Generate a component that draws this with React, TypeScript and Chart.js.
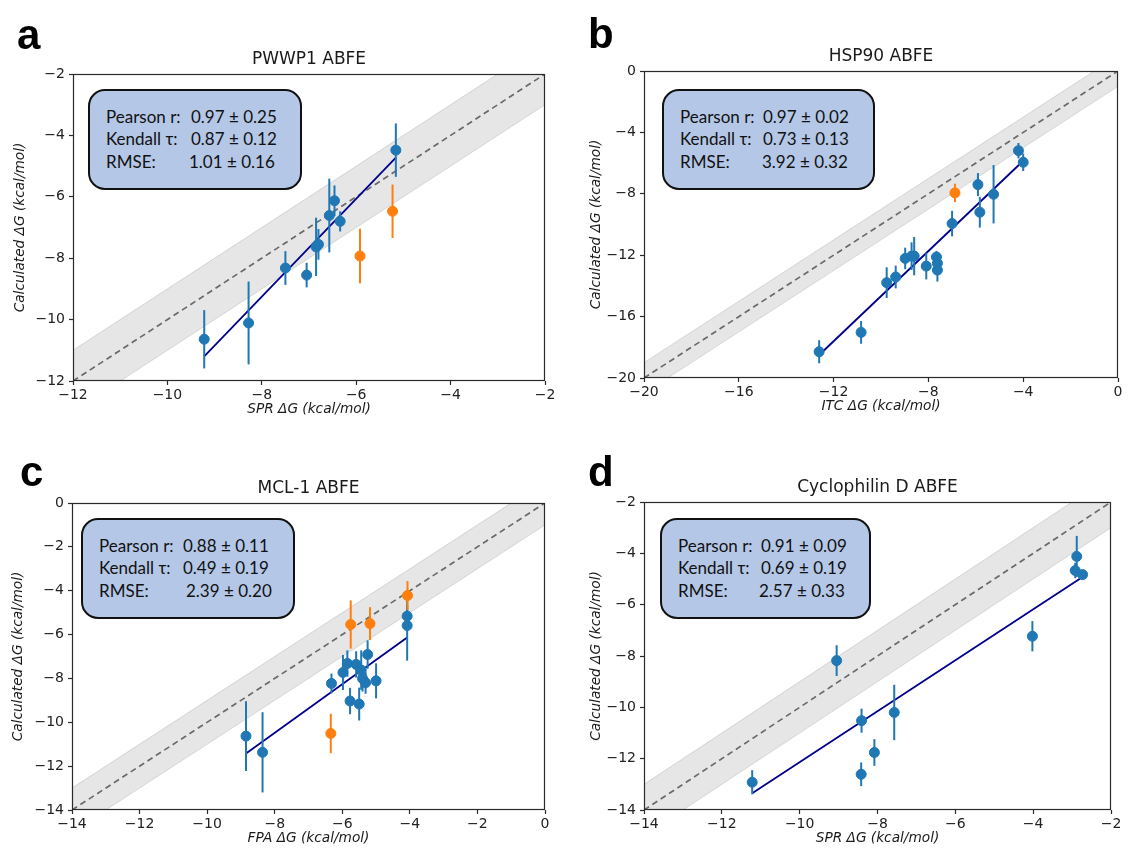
import React, { useEffect, useRef } from "react";
import { Chart, registerables } from "chart.js";

Chart.register(...registerables);

// ---------------- Panel a: PWWP1 ABFE ----------------
const aBlueX = [-9.22, -8.28, -7.5, -7.05, -6.85, -6.8, -6.57, -6.46, -6.34, -5.16];
const aBlueY = [-10.64, -10.11, -8.32, -8.55, -7.63, -7.55, -6.61, -6.13, -6.8, -4.48];
const aBlueErr = [0.95, 1.35, 0.55, 0.4, 0.95, 0.5, 1.2, 0.5, 0.33, 0.87];
const aOrangeX = [-5.92, -5.23];
const aOrangeY = [-7.93, -6.47];
const aOrangeErr = [0.89, 0.87];
const aFitX = [-9.22, -5.16];
const aFitY = [-11.2, -4.72];
const aStats = ["0.97 ± 0.25", "0.87 ± 0.12", "1.01 ± 0.16"];

// ---------------- Panel b: HSP90 ABFE ----------------
const bBlueX = [-12.61, -10.84, -9.76, -9.38, -8.98, -8.71, -8.6, -8.09, -7.66, -7.62, -7.62, -7.0, -5.91, -5.83, -5.25, -4.2, -4.0];
const bBlueY = [-18.29, -17.03, -13.79, -13.42, -12.21, -12.06, -12.06, -12.71, -12.12, -12.53, -12.97, -9.94, -7.4, -9.2, -8.03, -5.19, -5.95];
const bBlueErr = [0.75, 0.74, 1.0, 0.74, 0.7, 0.9, 1.25, 0.87, 0.4, 0.5, 0.75, 0.83, 0.75, 1.0, 1.9, 0.5, 0.57];
const bOrangeX = [-6.88];
const bOrangeY = [-7.94];
const bOrangeErr = [0.6];
const bFitX = [-12.61, -4.14];
const bFitY = [-18.5, -6.06];
const bStats = ["0.97 ± 0.02", "0.73 ± 0.13", "3.92 ± 0.32"];

// ---------------- Panel c: MCL-1 ABFE ----------------
const cBlueX = [-8.85, -8.36, -6.32, -5.98, -5.85, -5.77, -5.59, -5.5, -5.44, -5.4, -5.31, -5.25, -5.0, -4.08, -4.08];
const cBlueY = [-10.63, -11.37, -8.23, -7.73, -7.32, -9.03, -7.36, -9.17, -7.62, -8.0, -8.2, -6.91, -8.11, -5.16, -5.59];
const cBlueErr = [1.59, 1.83, 0.45, 0.8, 0.6, 0.6, 0.6, 0.75, 0.9, 0.6, 0.5, 0.65, 0.8, 0.5, 1.6];
const cOrangeX = [-6.34, -5.75, -5.18, -4.07];
const cOrangeY = [-10.51, -5.54, -5.5, -4.22];
const cOrangeErr = [0.9, 1.1, 0.75, 0.66];
const cFitX = [-8.85, -4.08];
const cFitY = [-11.42, -6.13];
const cStats = ["0.88 ± 0.11", "0.49 ± 0.19", "2.39 ± 0.20"];

// ---------------- Panel d: Cyclophilin D ABFE ----------------
const dBlueX = [-11.22, -9.05, -8.41, -8.42, -8.08, -7.57, -4.02, -2.88, -2.92, -2.73];
const dBlueY = [-12.92, -8.18, -10.52, -12.61, -11.76, -10.2, -7.23, -4.12, -4.67, -4.83];
const dBlueErr = [0.47, 0.6, 0.47, 0.46, 0.52, 1.08, 0.59, 0.8, 0.3, 0.2];
const dOrangeX: number[] = [];
const dOrangeY: number[] = [];
const dOrangeErr: number[] = [];
const dFitX = [-11.22, -2.8];
const dFitY = [-13.35, -4.99];
const dStats = ["0.91 ± 0.09", "0.69 ± 0.19", "2.57 ± 0.33"];

const statLabels = ["Pearson r:", "Kendall τ:", "RMSE:"];
const BAND = 1; // ±1 kcal/mol band around identity

const BLUE = "#1f77b4";
const ORANGE = "#ff7f0e";
const NAVY = "#00008b";
const TICK_FONT = "'DejaVu Sans', sans-serif";

type Panel = {
  letter: string;
  title: string;
  xLabel: string;
  min: number;
  max: number;
  step: number;
  area: [number, number, number, number];
  yOff: number;
  blueX: number[];
  blueY: number[];
  blueErr: number[];
  orangeX: number[];
  orangeY: number[];
  orangeErr: number[];
  fitX: number[];
  fitY: number[];
  stats: string[];
  box: [number, number, number, number];
  valLeft: number[];
  letterPos: [number, number];
};

const panels: Panel[] = [
  {
    letter: "a", title: "PWWP1 ABFE", xLabel: "SPR ΔG (kcal/mol)", min: -12, max: -2, step: 2,
    area: [73, 74, 545, 381], yOff: 53,
    blueX: aBlueX, blueY: aBlueY, blueErr: aBlueErr, orangeX: aOrangeX, orangeY: aOrangeY, orangeErr: aOrangeErr,
    fitX: aFitX, fitY: aFitY, stats: aStats, box: [88, 89, 214, 101], valLeft: [103, 103, 101], letterPos: [17, 14],
  },
  {
    letter: "b", title: "HSP90 ABFE", xLabel: "ITC ΔG (kcal/mol)", min: -20, max: 0, step: 4,
    area: [644, 71, 1118, 378], yOff: 48,
    blueX: bBlueX, blueY: bBlueY, blueErr: bBlueErr, orangeX: bOrangeX, orangeY: bOrangeY, orangeErr: bOrangeErr,
    fitX: bFitX, fitY: bFitY, stats: bStats, box: [662, 89, 213, 101], valLeft: [101, 101, 100], letterPos: [588, 13],
  },
  {
    letter: "c", title: "MCL-1 ABFE", xLabel: "FPA ΔG (kcal/mol)", min: -14, max: 0, step: 2,
    area: [72, 503, 545, 810], yOff: 54,
    blueX: cBlueX, blueY: cBlueY, blueErr: cBlueErr, orangeX: cOrangeX, orangeY: cOrangeY, orangeErr: cOrangeErr,
    fitX: cFitX, fitY: cFitY, stats: cStats, box: [81, 518, 214, 101], valLeft: [102, 102, 105], letterPos: [20, 451],
  },
  {
    letter: "d", title: "Cyclophilin D ABFE", xLabel: "SPR ΔG (kcal/mol)", min: -14, max: -2, step: 2,
    area: [644, 502, 1111, 810], yOff: 48,
    blueX: dBlueX, blueY: dBlueY, blueErr: dBlueErr, orangeX: dOrangeX, orangeY: dOrangeY, orangeErr: dOrangeErr,
    fitX: dFitX, fitY: dFitY, stats: dStats, box: [660, 518, 211, 101], valLeft: [101, 101, 99], letterPos: [588, 451],
  },
];

const fmt = (v: number) => (v < 0 ? "\u2212" + Math.abs(v) : String(v));

const errorBarPlugin = {
  id: "errorBars",
  beforeDatasetDraw(chart: any, args: any) {
    const ds = chart.data.datasets[args.index];
    if (!ds.errors) return;
    const meta = chart.getDatasetMeta(args.index);
    const y = chart.scales.y;
    const ctx = chart.ctx;
    ctx.save();
    ctx.strokeStyle = ds.backgroundColor;
    ctx.lineWidth = 2;
    meta.data.forEach((pt: any, i: number) => {
      const v = ds.data[i].y;
      const e = ds.errors[i];
      ctx.beginPath();
      ctx.moveTo(pt.x, y.getPixelForValue(v - e));
      ctx.lineTo(pt.x, y.getPixelForValue(v + e));
      ctx.stroke();
    });
    ctx.restore();
  },
};

const textPlugin = {
  id: "panelText",
  afterDraw(chart: any, _args: any, opts: any) {
    const { ctx, chartArea: a } = chart;
    ctx.save();
    ctx.strokeStyle = "#2a2a2a";
    ctx.lineWidth = 1.2;
    ctx.strokeRect(Math.round(a.left) + 0.5, Math.round(a.top) + 0.5, Math.round(a.right - a.left) - 1, Math.round(a.bottom - a.top) - 1);
    ctx.fillStyle = "#1a1a1a";
    ctx.textAlign = "center";
    ctx.textBaseline = "middle";
    ctx.font = "17px 'DejaVu Sans', sans-serif";
    ctx.fillText(opts.title, (a.left + a.right) / 2, a.top - 14);
    ctx.font = "italic 13.7px 'DejaVu Sans', sans-serif";
    ctx.fillText(opts.xLabel, (a.left + a.right) / 2, a.bottom + 28);
    ctx.translate(a.left - opts.yOff, (a.top + a.bottom) / 2);
    ctx.rotate(-Math.PI / 2);
    ctx.fillText("Calculated ΔG (kcal/mol)", 0, 0);
    ctx.restore();
  },
};

const YW = 70, PT = 40, PR = 20, XH = 40, PB = 12;

function PanelChart({ p }: { p: Panel }) {
  const ref = useRef<HTMLCanvasElement>(null);
  const [L, T, R, B] = p.area;
  const cw = YW + (R - L) + PR;
  const ch = PT + (B - T) + XH + PB;

  useEffect(() => {
    const diag = [p.min, p.max];
    const pts = (xs: number[], ys: number[]) => xs.map((x, i) => ({ x, y: ys[i] }));
    const axis = (isX: boolean) => ({
      type: "linear" as const,
      min: p.min,
      max: p.max,
      ticks: {
        stepSize: p.step,
        callback: (v: any) => fmt(Number(v)),
        font: { family: TICK_FONT, size: 14 },
        color: "#222",
        padding: isX ? 2 : 4,
        maxRotation: 0,
        autoSkip: false,
      },
      grid: { drawOnChartArea: false, drawTicks: true, tickLength: 4, tickColor: "#2a2a2a", tickWidth: 1.2 },
      border: { display: false },
      afterFit: (s: any) => {
        if (isX) s.height = XH;
        else s.width = YW;
      },
    });
    const chart = new Chart(ref.current!, {
      type: "scatter",
      data: {
        datasets: [
          {
            type: "line",
            data: pts(diag, diag.map((v) => v + BAND)),
            borderColor: "rgba(190,190,190,0.5)",
            borderWidth: 1,
            pointRadius: 0,
            fill: false,
            order: 10,
          } as any,
          {
            type: "line",
            data: pts(diag, diag.map((v) => v - BAND)),
            borderColor: "rgba(190,190,190,0.5)",
            borderWidth: 1,
            backgroundColor: "rgba(128,128,128,0.2)",
            pointRadius: 0,
            fill: "-1",
            order: 9,
          },
          {
            type: "line",
            data: pts(diag, diag),
            borderColor: "#6a6a6a",
            borderWidth: 1.7,
            borderDash: [6, 4],
            pointRadius: 0,
            fill: false,
            order: 8,
          },
          {
            type: "line",
            data: pts(p.fitX, p.fitY),
            borderColor: NAVY,
            borderWidth: 1.8,
            pointRadius: 0,
            fill: false,
            order: 3,
          },
          {
            data: pts(p.blueX, p.blueY),
            errors: p.blueErr,
            backgroundColor: BLUE,
            borderColor: BLUE,
            pointRadius: 5,
            pointHoverRadius: 5,
            order: 2,
          } as any,
          {
            data: pts(p.orangeX, p.orangeY),
            errors: p.orangeErr,
            backgroundColor: ORANGE,
            borderColor: ORANGE,
            pointRadius: 5,
            pointHoverRadius: 5,
            order: 1,
          } as any,
        ],
      },
      options: {
        responsive: false,
        animation: false,
        events: [],
        layout: { padding: { left: 0, top: PT, right: PR, bottom: PB } },
        plugins: {
          legend: { display: false },
          tooltip: { enabled: false },
          title: { display: false },
          panelText: { title: p.title, xLabel: p.xLabel, yOff: p.yOff },
        } as any,
        scales: { x: axis(true), y: axis(false) } as any,
      },
      plugins: [errorBarPlugin, textPlugin],
    });
    return () => chart.destroy();
  }, []);

  return (
    <canvas
      ref={ref}
      width={cw}
      height={ch}
      style={{ position: "absolute", left: L - YW, top: T - PT, width: cw, height: ch }}
    />
  );
}

function StatsBox({ p }: { p: Panel }) {
  const [bx, by, bw, bh] = p.box;
  return (
    <div
      style={{
        position: "absolute",
        left: bx,
        top: by,
        width: bw,
        height: bh,
        boxSizing: "border-box",
        background: "#b4c7e7",
        border: "2px solid #111",
        borderRadius: 17,
        fontFamily: "Lato, 'Open Sans', sans-serif",
        fontSize: 17,
        color: "#111",
      }}
    >
      {statLabels.map((lab, i) => (
        <React.Fragment key={i}>
          <div style={{ position: "absolute", left: 16, top: 15 + i * 22.3, lineHeight: "22px", whiteSpace: "nowrap" }}>{lab}</div>
          <div style={{ position: "absolute", left: p.valLeft[i] - 2, top: 15 + i * 22.3, lineHeight: "22px", whiteSpace: "nowrap" }}>
            {p.stats[i]}
          </div>
        </React.Fragment>
      ))}
    </div>
  );
}

export default function App() {
  return (
    <div style={{ position: "fixed", left: 0, top: 0, width: 1128, height: 852, background: "#fff", overflow: "hidden" }}>
      {panels.map((p, i) => (
        <PanelChart key={i} p={p} />
      ))}
      {panels.map((p, i) => (
        <StatsBox key={"s" + i} p={p} />
      ))}
      {panels.map((p, i) => (
        <div
          key={"l" + i}
          style={{
            position: "absolute",
            left: p.letterPos[0],
            top: p.letterPos[1],
            fontFamily: "'Liberation Sans', Arial, sans-serif",
            fontWeight: "bold",
            fontSize: 42,
            lineHeight: "42px",
            color: "#000",
          }}
        >
          {p.letter}
        </div>
      ))}
    </div>
  );
}
